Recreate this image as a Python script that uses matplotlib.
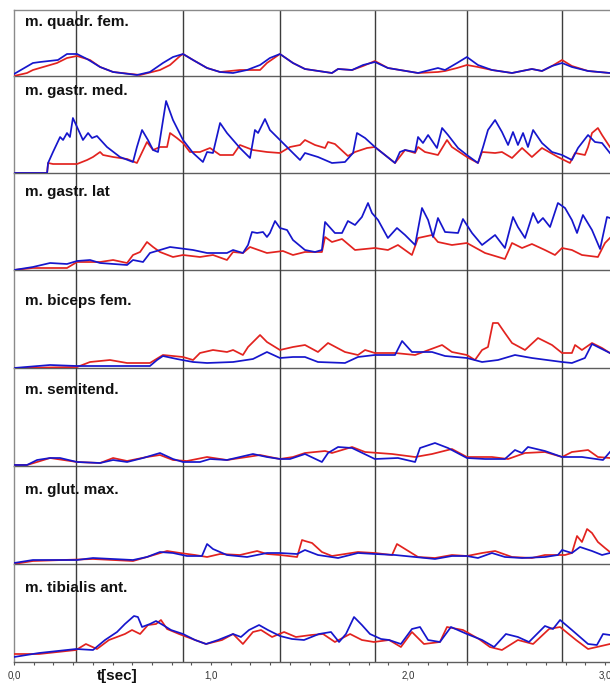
import matplotlib.pyplot as plt
from matplotlib.ticker import MultipleLocator

plt.rcParams["font.family"] = ["Liberation Sans", "DejaVu Sans"]

# muscle names, top to bottom
muscles = ["m. quadr. fem.", "m. gastr. med.", "m. gastr. lat", "m. biceps fem.",
           "m. semitend.", "m. glut. max.", "m. tibialis ant."]

# foot contact events [s]
events = [0.315, 0.858, 1.350, 1.832, 2.299, 2.782]

# EMG envelopes as (t [s], amplitude [a.u.]) samples, red = side 1, blue = side 2
quad_red = [(0, 0), (0.066, 3), (0.096, 6), (0.218, 13), (0.269, 18), (0.320, 20), (0.386, 16),
            (0.437, 9), (0.503, 4), (0.640, 1), (0.741, 6), (0.792, 11), (0.843, 20), (0.858, 22),
            (0.909, 16), (0.980, 8), (1.046, 4), (1.147, 6), (1.249, 6), (1.284, 13), (1.350, 22),
            (1.416, 13), (1.477, 7), (1.614, 3), (1.645, 7), (1.716, 6), (1.772, 10), (1.832, 15),
            (1.898, 8), (2.051, 3), (2.152, 4), (2.188, 5), (2.249, 8), (2.299, 11), (2.355, 9),
            (2.426, 6), (2.528, 3), (2.629, 7), (2.680, 5), (2.731, 10), (2.782, 16), (2.832, 10),
            (2.914, 5), (3.025, 3)]
quad_blue = [(0, 2), (0.096, 13), (0.132, 14), (0.223, 16), (0.269, 22), (0.320, 22), (0.371, 17),
             (0.437, 9), (0.503, 4), (0.624, 1), (0.690, 4), (0.756, 13), (0.807, 19), (0.858, 22),
             (0.909, 16), (0.980, 8), (1.046, 4), (1.112, 3), (1.183, 6), (1.249, 11), (1.299, 18),
             (1.350, 22), (1.416, 13), (1.477, 7), (1.614, 3), (1.645, 7), (1.716, 6), (1.772, 11),
             (1.832, 14), (1.898, 8), (2.051, 3), (2.152, 8), (2.188, 6), (2.249, 13), (2.299, 19),
             (2.355, 11), (2.426, 6), (2.528, 3), (2.629, 7), (2.680, 5), (2.731, 10), (2.782, 13),
             (2.832, 9), (2.914, 5), (3.025, 3)]

gmed_red = [(0, 0), (0.168, 0), (0.173, 10), (0.198, 9), (0.320, 9), (0.371, 13), (0.401, 16),
            (0.437, 21), (0.452, 18), (0.503, 16), (0.574, 14), (0.624, 10), (0.675, 31), (0.706, 23),
            (0.741, 26), (0.777, 26), (0.792, 40), (0.827, 35), (0.858, 30), (0.893, 21), (0.944, 21),
            (0.995, 25), (1.046, 18), (1.112, 18), (1.147, 28), (1.213, 23), (1.284, 21), (1.350, 20),
            (1.401, 26), (1.452, 28), (1.477, 33), (1.528, 28), (1.579, 25), (1.594, 31), (1.629, 29),
            (1.695, 17), (1.731, 21), (1.792, 25), (1.832, 26), (1.883, 18), (1.934, 10), (1.985, 23),
            (2.036, 20), (2.051, 26), (2.086, 21), (2.152, 18), (2.198, 33), (2.223, 26), (2.299, 16),
            (2.355, 10), (2.376, 21), (2.442, 20), (2.477, 21), (2.528, 15), (2.579, 25), (2.629, 16),
            (2.680, 25), (2.761, 16), (2.822, 10), (2.848, 20), (2.898, 18), (2.914, 26), (2.934, 40),
            (2.964, 45), (2.985, 38), (3.025, 26)]
gmed_blue = [(0, 0), (0.168, 0), (0.173, 10), (0.198, 21), (0.234, 36), (0.249, 33), (0.269, 40),
             (0.284, 36), (0.299, 55), (0.320, 46), (0.350, 33), (0.376, 40), (0.396, 35), (0.421, 37),
             (0.472, 26), (0.538, 16), (0.604, 11), (0.624, 26), (0.650, 43), (0.680, 33), (0.706, 23),
             (0.731, 21), (0.751, 46), (0.772, 72), (0.807, 53), (0.858, 33), (0.909, 20), (0.959, 11),
             (0.980, 21), (1.010, 20), (1.046, 50), (1.081, 40), (1.147, 25), (1.198, 15), (1.223, 43),
             (1.239, 40), (1.274, 54), (1.299, 43), (1.350, 33), (1.416, 20), (1.452, 13), (1.477, 20),
             (1.543, 16), (1.614, 10), (1.680, 11), (1.721, 20), (1.741, 40), (1.782, 35), (1.832, 26),
             (1.883, 18), (1.934, 10), (1.959, 21), (1.985, 23), (2.036, 21), (2.051, 36), (2.076, 30),
             (2.102, 38), (2.147, 25), (2.173, 45), (2.203, 38), (2.254, 25), (2.299, 18), (2.355, 10),
             (2.381, 26), (2.406, 43), (2.442, 53), (2.477, 41), (2.508, 28), (2.533, 41), (2.558, 28),
             (2.584, 40), (2.609, 26), (2.635, 43), (2.680, 30), (2.731, 21), (2.782, 18), (2.832, 13),
             (2.863, 25), (2.914, 38), (2.949, 31), (2.985, 30), (3.025, 20)]

glat_red = [(0, 0), (0.096, 2), (0.269, 2), (0.320, 8), (0.437, 8), (0.503, 10), (0.574, 7),
            (0.604, 15), (0.640, 18), (0.675, 28), (0.706, 23), (0.741, 18), (0.807, 13), (0.858, 15),
            (0.944, 13), (1.010, 15), (1.081, 10), (1.112, 18), (1.162, 17), (1.198, 23), (1.284, 17),
            (1.365, 19), (1.416, 15), (1.477, 18), (1.563, 18), (1.579, 33), (1.614, 28), (1.665, 31),
            (1.731, 20), (1.832, 22), (1.898, 20), (1.949, 25), (2.020, 15), (2.051, 32), (2.122, 35),
            (2.152, 28), (2.223, 25), (2.299, 27), (2.391, 17), (2.492, 11), (2.528, 27), (2.579, 22),
            (2.629, 26), (2.695, 20), (2.746, 15), (2.782, 22), (2.832, 20), (2.883, 15), (2.964, 13),
            (3.000, 27), (3.025, 32)]
glat_blue = [(0, 0), (0.096, 3), (0.183, 7), (0.269, 6), (0.320, 9), (0.386, 10), (0.437, 7),
             (0.574, 5), (0.604, 10), (0.655, 8), (0.690, 17), (0.741, 20), (0.792, 23), (0.909, 20),
             (0.980, 17), (1.081, 17), (1.112, 20), (1.162, 17), (1.188, 25), (1.208, 38), (1.234, 37),
             (1.264, 38), (1.284, 33), (1.299, 37), (1.325, 49), (1.350, 42), (1.386, 40), (1.416, 30),
             (1.477, 20), (1.528, 18), (1.563, 20), (1.579, 48), (1.629, 37), (1.665, 37), (1.695, 49),
             (1.731, 45), (1.766, 53), (1.797, 67), (1.817, 57), (1.848, 50), (1.898, 32), (1.944, 42),
             (1.985, 35), (2.036, 25), (2.071, 62), (2.102, 50), (2.127, 33), (2.152, 52), (2.188, 38),
             (2.254, 37), (2.279, 51), (2.325, 37), (2.376, 25), (2.442, 35), (2.492, 22), (2.533, 53),
             (2.558, 43), (2.594, 32), (2.635, 57), (2.660, 47), (2.685, 52), (2.721, 43), (2.761, 67),
             (2.797, 62), (2.832, 50), (2.858, 37), (2.888, 55), (2.934, 40), (2.975, 21), (3.010, 53),
             (3.025, 52)]

bic_red = [(0, 0), (0.320, 1), (0.386, 6), (0.487, 8), (0.574, 5), (0.690, 5), (0.756, 13),
           (0.858, 11), (0.909, 8), (0.944, 15), (1.010, 18), (1.081, 16), (1.112, 18), (1.162, 13),
           (1.188, 21), (1.249, 33), (1.284, 26), (1.350, 18), (1.416, 21), (1.477, 23), (1.543, 16),
           (1.594, 25), (1.680, 16), (1.746, 13), (1.782, 18), (1.832, 15), (1.934, 15), (2.036, 13),
           (2.173, 23), (2.223, 16), (2.299, 13), (2.340, 8), (2.376, 18), (2.406, 21), (2.431, 45),
           (2.457, 45), (2.492, 35), (2.528, 25), (2.594, 18), (2.660, 30), (2.731, 23), (2.782, 15),
           (2.832, 15), (2.848, 23), (2.883, 18), (2.934, 25), (2.985, 20), (3.025, 15)]
bic_blue = [(0, 0), (0.183, 3), (0.320, 2), (0.690, 2), (0.726, 8), (0.756, 12), (0.827, 9),
            (0.909, 6), (0.980, 5), (1.112, 6), (1.213, 9), (1.284, 16), (1.350, 10), (1.416, 11),
            (1.477, 11), (1.543, 6), (1.680, 5), (1.746, 11), (1.832, 13), (1.934, 13), (1.970, 27),
            (2.020, 16), (2.122, 16), (2.188, 12), (2.299, 10), (2.376, 6), (2.457, 8), (2.543, 13),
            (2.629, 10), (2.782, 6), (2.832, 5), (2.898, 10), (2.934, 24), (2.964, 21), (3.025, 15)]

semi_red = [(0, 1), (0.066, 1), (0.117, 4), (0.183, 8), (0.320, 4), (0.437, 3), (0.503, 8),
            (0.574, 5), (0.675, 9), (0.741, 11), (0.807, 6), (0.878, 5), (0.980, 9), (1.081, 6),
            (1.183, 9), (1.249, 11), (1.299, 9), (1.350, 7), (1.416, 9), (1.477, 13), (1.579, 15),
            (1.614, 13), (1.716, 19), (1.782, 14), (1.919, 12), (2.036, 9), (2.122, 12), (2.223, 17),
            (2.299, 9), (2.426, 9), (2.508, 7), (2.594, 13), (2.695, 14), (2.782, 9), (2.832, 14),
            (2.914, 16), (2.964, 9), (3.025, 8)]
semi_blue = [(0, 1), (0.066, 1), (0.117, 6), (0.183, 8), (0.234, 8), (0.320, 4), (0.437, 3),
             (0.503, 6), (0.574, 4), (0.655, 8), (0.741, 13), (0.807, 7), (0.858, 4), (0.944, 4),
             (0.995, 7), (1.081, 6), (1.147, 9), (1.213, 12), (1.284, 9), (1.350, 7), (1.401, 7),
             (1.477, 12), (1.563, 4), (1.594, 13), (1.645, 19), (1.716, 18), (1.832, 7), (1.949, 8),
             (2.036, 4), (2.061, 18), (2.137, 23), (2.203, 18), (2.299, 8), (2.391, 7), (2.492, 7),
             (2.543, 16), (2.579, 13), (2.609, 19), (2.695, 15), (2.782, 9), (2.883, 9), (2.990, 6),
             (3.025, 14)]

glut_red = [(0, 0), (0.096, 3), (0.401, 5), (0.604, 3), (0.675, 7), (0.777, 13), (0.843, 11),
            (0.919, 9), (0.980, 7), (1.046, 10), (1.147, 9), (1.234, 13), (1.284, 10), (1.350, 9),
            (1.437, 7), (1.462, 24), (1.477, 23), (1.513, 21), (1.563, 12), (1.614, 8), (1.680, 10),
            (1.746, 12), (1.832, 11), (1.919, 9), (1.944, 20), (1.985, 15), (2.051, 7), (2.137, 6),
            (2.223, 9), (2.299, 8), (2.376, 11), (2.442, 13), (2.528, 7), (2.629, 6), (2.695, 9),
            (2.797, 9), (2.832, 11), (2.858, 28), (2.883, 22), (2.909, 35), (2.934, 31), (2.964, 22),
            (3.000, 16), (3.025, 12)]
glut_blue = [(0, 1), (0.096, 4), (0.320, 4), (0.401, 6), (0.604, 4), (0.675, 7), (0.741, 12),
             (0.807, 11), (0.878, 8), (0.954, 8), (0.980, 20), (1.010, 15), (1.081, 9), (1.183, 7),
             (1.284, 11), (1.350, 11), (1.437, 10), (1.477, 14), (1.543, 9), (1.645, 6), (1.746, 11),
             (1.832, 10), (1.934, 9), (2.036, 7), (2.137, 5), (2.223, 8), (2.299, 8), (2.355, 6),
             (2.426, 11), (2.492, 7), (2.579, 6), (2.695, 7), (2.761, 9), (2.782, 14), (2.832, 11),
             (2.873, 17), (2.934, 13), (2.985, 9), (3.025, 11)]

tib_red = [(0, 8), (0.127, 8), (0.315, 12), (0.365, 18), (0.421, 13), (0.482, 22), (0.563, 28),
           (0.599, 32), (0.640, 28), (0.680, 37), (0.721, 38), (0.746, 42), (0.777, 33), (0.838, 28),
           (0.919, 22), (0.975, 18), (1.056, 22), (1.112, 28), (1.162, 18), (1.213, 30), (1.254, 32),
           (1.310, 25), (1.371, 30), (1.431, 25), (1.508, 27), (1.569, 28), (1.629, 20), (1.706, 28),
           (1.766, 22), (1.827, 20), (1.904, 22), (1.964, 15), (2.020, 30), (2.081, 18), (2.162, 20),
           (2.198, 35), (2.279, 32), (2.360, 23), (2.416, 15), (2.477, 12), (2.558, 22), (2.635, 18),
           (2.716, 33), (2.772, 35), (2.853, 22), (2.914, 13), (2.959, 15), (3.025, 18)]
tib_blue = [(0, 5), (0.127, 9), (0.315, 13), (0.401, 12), (0.462, 22), (0.523, 30), (0.563, 38),
            (0.609, 46), (0.629, 45), (0.650, 35), (0.690, 38), (0.721, 41), (0.756, 37), (0.797, 32),
            (0.858, 28), (0.919, 22), (0.975, 18), (1.036, 22), (1.112, 28), (1.152, 25), (1.193, 32),
            (1.244, 37), (1.289, 32), (1.350, 26), (1.411, 23), (1.472, 22), (1.548, 28), (1.609, 30),
            (1.650, 20), (1.685, 28), (1.726, 45), (1.766, 37), (1.807, 28), (1.863, 23), (1.904, 22),
            (1.964, 18), (2.020, 33), (2.061, 35), (2.102, 22), (2.162, 20), (2.218, 35), (2.299, 28),
            (2.376, 22), (2.437, 15), (2.497, 28), (2.558, 25), (2.614, 20), (2.695, 36), (2.736, 33),
            (2.772, 42), (2.832, 32), (2.914, 18), (2.959, 17), (2.990, 28), (3.025, 27)]

red_series = [quad_red, gmed_red, glat_red, bic_red, semi_red, glut_red, tib_red]
blue_series = [quad_blue, gmed_blue, glat_blue, bic_blue, semi_blue, glut_blue, tib_blue]

# panel edges in pixels from the top of the figure
W, H = 610, 684
edges = [10, 76, 173, 270, 368, 466, 564, 662]
left = 14
px_per_sec = 197
label_drop = [12, 15, 19, 31, 22, 24, 24]

RED = "#e2231f"
BLUE = "#1616cc"
FRAME = "#5e5e5e"

fig = plt.figure(figsize=(W / 100, H / 100), dpi=100)

for i, name in enumerate(muscles):
    top, bot = edges[i], edges[i + 1]
    ax = fig.add_axes([left / W, 1 - bot / H, (W - left) / W, (bot - top) / H])
    ax.patch.set_visible(False)
    ax.set_xlim(0, (W - left) / px_per_sec)
    ax.set_ylim(0, bot - top)

    for t in events:
        ax.axvline(t, color="#3c3c3c", lw=1.0, zorder=1)

    tr, vr = zip(*red_series[i])
    tb, vb = zip(*blue_series[i])
    ax.plot(tr, vr, color=RED, lw=1.25, zorder=3)
    ax.plot(tb, vb, color=BLUE, lw=1.25, zorder=4)

    ax.annotate(name, xy=(0, 1), xycoords="axes fraction", xytext=(11, -label_drop[i]),
                textcoords="offset pixels", ha="left", va="center",
                fontsize=11, fontweight="bold", color="#111111")

    ax.spines["right"].set_visible(False)
    for s in ("left", "top", "bottom"):
        ax.spines[s].set_color(FRAME)
        ax.spines[s].set_linewidth(1.0)
    ax.spines["left"].set_color("#8a8a8a")
    if i > 0:
        ax.spines["top"].set_visible(False)
    else:
        ax.spines["top"].set_color("#8a8a8a")

    if i < len(muscles) - 1:
        ax.tick_params(bottom=False, labelbottom=False, left=False, labelleft=False)
    else:
        ax.tick_params(left=False, labelleft=False)
        ax.set_xticks([0, 1, 2, 3])
        ax.set_xticklabels(["0,0", "1,0", "2,0", "3,0"])
        ax.xaxis.set_minor_locator(MultipleLocator(0.1))
        ax.tick_params(axis="x", which="both", direction="out", length=2.5, width=0.8,
                       color="#555555", labelsize=7, labelcolor="#333333", pad=3.5)

fig.text(117 / W, 1 - 676 / H, "t[sec]", ha="center", va="center",
         fontsize=11, fontweight="bold", color="#111111")

fig.savefig("out.png", dpi=100)
